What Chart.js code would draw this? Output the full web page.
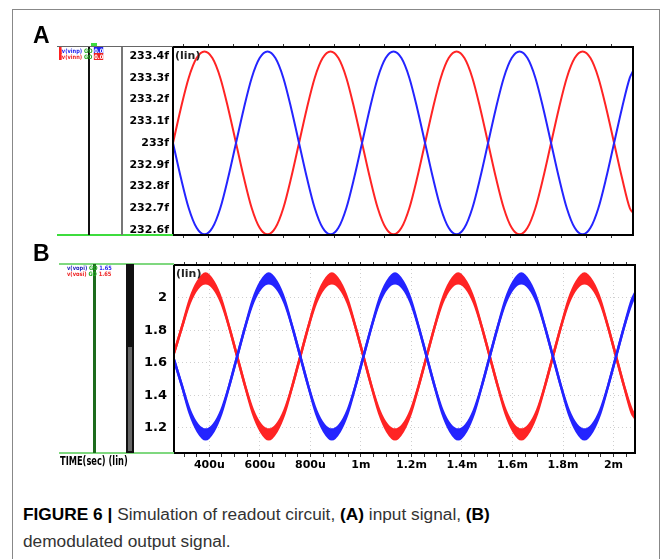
<!DOCTYPE html>
<html>
<head>
<meta charset="utf-8">
<script src="https://cdn.jsdelivr.net/npm/chart.js@4.4.0/dist/chart.umd.min.js"></script>
<style>
  body { margin: 0; background: #fff; width: 664px; height: 559px; position: relative; overflow: hidden; }
  .abs { position: absolute; }
  canvas { position: absolute; left: 0; }
  #frame { left: 12px; top: 9px; width: 648px; height: 560px; border: 1px solid #888; border-bottom: none; box-sizing: border-box; }
  .panel { font: bold 23px "Liberation Sans", Arial, sans-serif; color: #000; }
  .leg { font: bold 6px "DejaVu Sans", sans-serif; line-height: 6px; white-space: nowrap; transform: scaleX(0.85); transform-origin: left top; }
  #timeLabel { left: 60px; top: 454px; font: bold 12px "DejaVu Sans", sans-serif; white-space: nowrap; transform: scaleX(0.69); transform-origin: left top; }
  #caption { left: 23px; top: 501px; font: 17.3px "Liberation Sans", Arial, sans-serif; line-height: 27px; color: #333; white-space: nowrap; }
  #caption b { color: #000; }
</style>
</head>
<body>
<div id="frame" class="abs"></div>
<canvas id="chartA" width="664" height="250" style="top:0"></canvas>
<canvas id="chartB" width="664" height="232" style="top:248px"></canvas>

<!-- panel letters -->
<div class="abs panel" style="left:33px;top:22px">A</div>
<div class="abs panel" style="left:33px;top:240px">B</div>

<!-- waveform viewer decorations, panel A -->
<div class="abs" style="left:57px;top:46px;width:116px;height:1px;background:#666"></div>
<div class="abs" style="left:57px;top:234px;width:116px;height:2px;background:#3ddc3d"></div>
<div class="abs" style="left:88px;top:47px;width:2px;height:188px;background:#111"></div>
<div class="abs" style="left:121px;top:47px;width:2px;height:188px;background:#777"></div>
<div class="abs" style="left:91px;top:43px;width:6px;height:3px;background:#3ddc3d"></div>
<div class="abs leg" style="left:59px;top:48px"><span style="background:#f22;color:#f22">▮</span><span style="color:#22e">v(vinp)</span> <span style="color:#2a2">GO</span> <span style="background:#22e;color:#fff">0.0</span></div>
<div class="abs leg" style="left:59px;top:54px"><span style="background:#f22;color:#f22">▮</span><span style="color:#e22">v(vinn)</span> <span style="color:#2a2">GO</span> <span style="background:#e22;color:#fff">0.0</span></div>

<!-- waveform viewer decorations, panel B -->
<div class="abs" style="left:59px;top:263px;width:115px;height:2px;background:#7fd87f"></div>
<div class="abs" style="left:59px;top:452px;width:115px;height:2px;background:#7fd87f"></div>
<div class="abs" style="left:93px;top:264px;width:3px;height:189px;background:#1d6b1d"></div>
<div class="abs" style="left:126px;top:264px;width:8px;height:189px;background:#111"></div>
<div class="abs" style="left:128px;top:347px;width:4px;height:104px;background:#666"></div>
<div class="abs leg" style="left:67px;top:265px"><span style="color:#22b">v(vopi)</span> <span style="color:#2a2">GO</span> <span style="color:#22e">1.65</span></div>
<div class="abs leg" style="left:67px;top:271px"><span style="color:#e22">v(vosi)</span> <span style="color:#2a2">GO</span> <span style="color:#e22">1.65</span></div>
<div id="timeLabel" class="abs">TIME(sec) (lin)</div>

<div id="caption" class="abs"><b>FIGURE 6 |</b> Simulation of readout circuit, <b>(A)</b> input signal, <b>(B)</b><br>demodulated output signal.</div>

<script>
'use strict';

// time axis, in ms (shared by both panels)
const timeMs = [
    0.26, 0.29125, 0.3225, 0.35375, 0.385, 0.41625, 0.4475, 0.47875, 0.51, 0.54125, 0.5725, 0.60375, 0.635, 0.66625, 0.6975, 0.72875,
    0.76, 0.79125, 0.8225, 0.85375, 0.885, 0.91625, 0.9475, 0.97875, 1.01, 1.04125, 1.0725, 1.10375, 1.135, 1.16625, 1.1975, 1.22875,
    1.26, 1.29125, 1.3225, 1.35375, 1.385, 1.41625, 1.4475, 1.47875, 1.51, 1.54125, 1.5725, 1.60375, 1.635, 1.66625, 1.6975, 1.72875,
    1.76, 1.79125, 1.8225, 1.85375, 1.885, 1.91625, 1.9475, 1.97875, 2.01, 2.04125, 2.0725, 2.085
];

// panel A: input signal (fF)
const vinpA = [
    233.00, 232.84, 232.70, 232.61, 232.58, 232.61, 232.70, 232.84, 233.00, 233.16, 233.30, 233.39, 233.42, 233.39, 233.30, 233.16,
    233.00, 232.84, 232.70, 232.61, 232.58, 232.61, 232.70, 232.84, 233.00, 233.16, 233.30, 233.39, 233.42, 233.39, 233.30, 233.16,
    233.00, 232.84, 232.70, 232.61, 232.58, 232.61, 232.70, 232.84, 233.00, 233.16, 233.30, 233.39, 233.42, 233.39, 233.30, 233.16,
    233.00, 232.84, 232.70, 232.61, 232.58, 232.61, 232.70, 232.84, 233.00, 233.16, 233.30, 233.33
];
const vinnA = [
    233.00, 233.16, 233.30, 233.39, 233.42, 233.39, 233.30, 233.16, 233.00, 232.84, 232.70, 232.61, 232.58, 232.61, 232.70, 232.84,
    233.00, 233.16, 233.30, 233.39, 233.42, 233.39, 233.30, 233.16, 233.00, 232.84, 232.70, 232.61, 232.58, 232.61, 232.70, 232.84,
    233.00, 233.16, 233.30, 233.39, 233.42, 233.39, 233.30, 233.16, 233.00, 232.84, 232.70, 232.61, 232.58, 232.61, 232.70, 232.84,
    233.00, 233.16, 233.30, 233.39, 233.42, 233.39, 233.30, 233.16, 233.00, 232.84, 232.70, 232.68
];

// panel B: demodulated output (V), upper and lower edge of the rippling trace
const vopiHighB = [
    1.62, 1.46, 1.31, 1.22, 1.19, 1.22, 1.31, 1.46, 1.64, 1.82, 1.99, 2.10, 2.15, 2.10, 1.99, 1.82,
    1.64, 1.46, 1.31, 1.22, 1.19, 1.22, 1.31, 1.46, 1.64, 1.82, 1.99, 2.10, 2.15, 2.10, 1.99, 1.82,
    1.64, 1.46, 1.31, 1.22, 1.19, 1.22, 1.31, 1.46, 1.64, 1.82, 1.99, 2.10, 2.15, 2.10, 1.99, 1.82,
    1.64, 1.46, 1.31, 1.22, 1.19, 1.22, 1.31, 1.46, 1.64, 1.82, 1.99, 2.03
];
const vopiLowB = [
    1.62, 1.46, 1.29, 1.18, 1.13, 1.18, 1.29, 1.46, 1.64, 1.82, 1.97, 2.06, 2.09, 2.06, 1.97, 1.82,
    1.64, 1.46, 1.29, 1.18, 1.13, 1.18, 1.29, 1.46, 1.64, 1.82, 1.97, 2.06, 2.09, 2.06, 1.97, 1.82,
    1.64, 1.46, 1.29, 1.18, 1.13, 1.18, 1.29, 1.46, 1.64, 1.82, 1.97, 2.06, 2.09, 2.06, 1.97, 1.82,
    1.64, 1.46, 1.29, 1.18, 1.13, 1.18, 1.29, 1.46, 1.64, 1.82, 1.97, 2.01
];
const vosiHighB = [
    1.66, 1.82, 1.99, 2.10, 2.15, 2.10, 1.99, 1.82, 1.64, 1.46, 1.31, 1.22, 1.19, 1.22, 1.31, 1.46,
    1.64, 1.82, 1.99, 2.10, 2.15, 2.10, 1.99, 1.82, 1.64, 1.46, 1.31, 1.22, 1.19, 1.22, 1.31, 1.46,
    1.64, 1.82, 1.99, 2.10, 2.15, 2.10, 1.99, 1.82, 1.64, 1.46, 1.31, 1.22, 1.19, 1.22, 1.31, 1.46,
    1.64, 1.82, 1.99, 2.10, 2.15, 2.10, 1.99, 1.82, 1.64, 1.46, 1.31, 1.28
];
const vosiLowB = [
    1.66, 1.82, 1.97, 2.06, 2.09, 2.06, 1.97, 1.82, 1.64, 1.46, 1.29, 1.18, 1.13, 1.18, 1.29, 1.46,
    1.64, 1.82, 1.97, 2.06, 2.09, 2.06, 1.97, 1.82, 1.64, 1.46, 1.29, 1.18, 1.13, 1.18, 1.29, 1.46,
    1.64, 1.82, 1.97, 2.06, 2.09, 2.06, 1.97, 1.82, 1.64, 1.46, 1.29, 1.18, 1.13, 1.18, 1.29, 1.46,
    1.64, 1.82, 1.97, 2.06, 2.09, 2.06, 1.97, 1.82, 1.64, 1.46, 1.29, 1.26
];

// tick labels
const yTicksA = [232.6, 232.7, 232.8, 232.9, 233.0, 233.1, 233.2, 233.3, 233.4];
const yLabelsA = ['232.6f', '232.7f', '232.8f', '232.9f', '233f', '233.1f', '233.2f', '233.3f', '233.4f'];
const yTicksB = [1.2, 1.4, 1.6, 1.8, 2.0];
const yLabelsB = ['1.2', '1.4', '1.6', '1.8', '2'];
const xTicksB = [0.4, 0.6, 0.8, 1.0, 1.2, 1.4, 1.6, 1.8, 2.0];
const xLabelsB = ['400u', '600u', '800u', '1m', '1.2m', '1.4m', '1.6m', '1.8m', '2m'];

const RED = '#ff2424';
const BLUE = '#2424ff';
const TICK_FONT = { family: '"DejaVu Sans", sans-serif', size: 11, weight: 'bold' };

Chart.defaults.animation = false;

function toPoints(values) {
    return values.map((v, i) => ({ x: timeMs[i], y: v }));
}

function labelFor(ticks, labels, value) {
    for (let i = 0; i < ticks.length; i++) {
        if (Math.abs(ticks[i] - value) < 1e-6) {
            return labels[i];
        }
    }
    return '';
}

// black box round the plot area plus the "(lin)" tag in the corner
const plotFrame = {
    id: 'plotFrame',
    afterDraw(chart) {
        const { ctx, chartArea: a } = chart;
        ctx.save();
        ctx.strokeStyle = '#000';
        ctx.lineWidth = 2;
        ctx.strokeRect(a.left, a.top, a.right - a.left, a.bottom - a.top);
        ctx.fillStyle = '#222';
        ctx.font = 'bold 11px "DejaVu Sans", sans-serif';
        ctx.textBaseline = 'middle';
        ctx.fillText('(lin)', a.left + 2, a.top + 9);
        ctx.restore();
    }
};

function tickAxis(position, step, height) {
    return {
        type: 'linear',
        position: position,
        min: 0.26,
        max: 2.085,
        ticks: { display: false, stepSize: step, includeBounds: false },
        grid: { drawOnChartArea: false, drawTicks: true, tickLength: 3, tickColor: '#333', tickWidth: 1 },
        border: { display: false },
        afterFit: s => { s.height = height; }
    };
}

// panel A
new Chart(document.getElementById('chartA'), {
    type: 'line',
    data: {
        datasets: [
            { label: 'v(vinp)', data: toPoints(vinpA), borderColor: BLUE, borderWidth: 2 },
            { label: 'v(vinn)', data: toPoints(vinnA), borderColor: RED, borderWidth: 2 }
        ]
    },
    options: {
        responsive: false,
        layout: { padding: { left: 113, right: 31, top: 42, bottom: 10 } },
        elements: { point: { radius: 0 }, line: { cubicInterpolationMode: 'monotone' } },
        plugins: { legend: { display: false }, tooltip: { enabled: false } },
        scales: {
            x: tickAxis('bottom', 0.1, 5),
            xTop: tickAxis('top', 0.1, 5),
            y: {
                min: 232.577,
                max: 233.441,
                afterBuildTicks: s => { s.ticks = yTicksA.map(v => ({ value: v })); },
                ticks: { color: '#000', font: TICK_FONT, padding: 4, callback: v => labelFor(yTicksA, yLabelsA, v) },
                grid: { display: false, drawTicks: false },
                border: { display: false },
                afterFit: s => { s.width = 60; }
            }
        }
    },
    plugins: [plotFrame]
});

// panel B: each trace is the band between its upper and lower edge
function edge(label, values, color, fill) {
    return {
        label: label,
        data: toPoints(values),
        borderColor: color,
        backgroundColor: color,
        borderWidth: 2.5,
        fill: fill
    };
}

new Chart(document.getElementById('chartB'), {
    type: 'line',
    data: {
        datasets: [
            edge('v(vopi) high', vopiHighB, BLUE, '+1'),
            edge('v(vopi) low', vopiLowB, BLUE, false),
            edge('v(vosi) high', vosiHighB, RED, '+1'),
            edge('v(vosi) low', vosiLowB, RED, false)
        ]
    },
    options: {
        responsive: false,
        layout: { padding: { left: 114, right: 29, top: 12, bottom: 3 } },
        elements: { point: { radius: 0 }, line: { cubicInterpolationMode: 'monotone' } },
        plugins: { legend: { display: false }, tooltip: { enabled: false } },
        scales: {
            x: {
                type: 'linear',
                min: 0.26,
                max: 2.085,
                ticks: {
                    stepSize: 0.05, includeBounds: false, autoSkip: false, maxRotation: 0,
                    color: '#000', font: TICK_FONT, padding: 2,
                    callback: v => labelFor(xTicksB, xLabelsB, v)
                },
                grid: {
                    color: c => (c.tick && labelFor(xTicksB, xLabelsB, c.tick.value) ? '#cfcfcf' : 'rgba(0,0,0,0)'),
                    tickColor: '#333', tickLength: 4, tickWidth: 1
                },
                border: { display: false, dash: [1, 3] },
                afterFit: s => { s.height = 24; }
            },
            xTop: tickAxis('top', 0.05, 5),
            y: {
                min: 1.046,
                max: 2.203,
                afterBuildTicks: s => { s.ticks = yTicksB.map(v => ({ value: v })); },
                ticks: { color: '#000', font: { family: '"DejaVu Sans", sans-serif', size: 13, weight: 'bold' },
                         padding: 7, callback: v => labelFor(yTicksB, yLabelsB, v) },
                grid: { color: '#cfcfcf', drawTicks: false },
                border: { display: false, dash: [1, 3] },
                afterFit: s => { s.width = 60; }
            }
        }
    },
    plugins: [plotFrame]
});
</script>
</body>
</html>
